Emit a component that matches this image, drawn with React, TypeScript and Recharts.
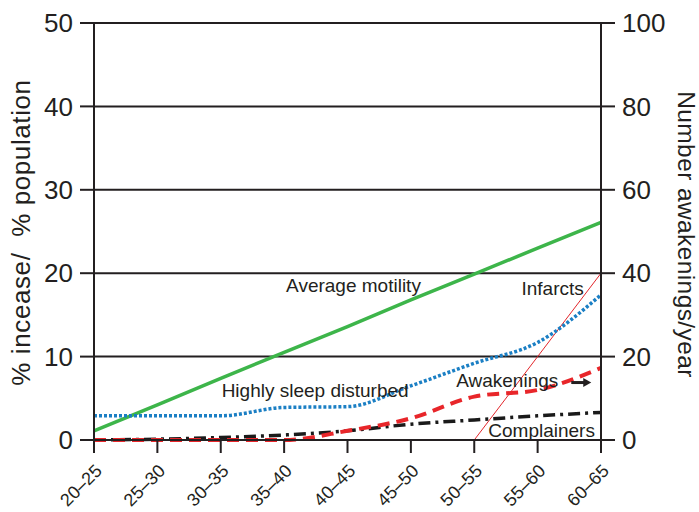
import React from 'react';
import {
  LineChart,
  Line,
  XAxis,
  YAxis,
  CartesianGrid,
  ReferenceDot,
  Label
} from 'recharts';

// age bands
const ageBands = ['20–25', '25–30', '30–35', '35–40', '40–45', '45–50', '50–55', '55–60', '60–65'];

// left axis (% increase / % population)
const averageMotility = [1.1, 4.2, 7.4, 10.5, 13.6, 16.8, 19.9, 23.0, 26.1];
const highlySleepDisturbed = [2.9, 2.9, 2.9, 3.9, 4.0, 6.5, 9.2, 11.7, 17.4];
const complainers = [0, 0.1, 0.3, 0.6, 1.1, 1.9, 2.4, 2.9, 3.3];
const infarcts = [0, 0, 0, 0, 0, 0, 0, 10, 20];

// right axis (number awakenings/year)
const awakenings = [0, 0, 0, 0, 2.2, 5.2, 10.4, 12.0, 17.3];

const leftTicks = [0, 10, 20, 30, 40, 50];
const rightTicks = [0, 20, 40, 60, 80, 100];

// in-plot labels, anchored to a band and a left-axis value
const notes = [
  { text: 'Average motility', band: '40–45', value: 17.75, dx: 6 },
  { text: 'Highly sleep disturbed', band: '35–40', value: 5.15, dx: 31 },
  { text: 'Infarcts', band: '55–60', value: 17.4, dx: 15 },
  { text: 'Awakenings', band: '50–55', value: 6.35, dx: 33, arrow: true },
  { text: 'Complainers', band: '55–60', value: 0.36, dx: 4 }
];

const data = ageBands.map((age, i) => ({
  age,
  motility: averageMotility[i],
  disturbed: highlySleepDisturbed[i],
  complainers: complainers[i],
  infarcts: infarcts[i],
  awakenings: awakenings[i]
}));

const FONT = '"Liberation Sans", Arial, Helvetica, sans-serif';
const INK = '#231f20';

const AgeTick = (props: any) => {
  const { x, y, payload } = props;
  const tx = x + 9;
  const ty = y + 17;
  return (
    <text
      x={tx}
      y={ty}
      transform={`rotate(-45, ${tx}, ${ty})`}
      textAnchor="end"
      fontSize={18}
      fontFamily={FONT}
      fill={INK}
    >
      {payload.value}
    </text>
  );
};

const noteContent = (note: any) => (props: any) => {
  const vb = props.viewBox || {};
  const x = vb.x + note.dx;
  const y = vb.y;
  return (
    <g>
      <text x={x} y={y} textAnchor="middle" fontSize={19} fontFamily={FONT} fill={INK}>
        {note.text}
      </text>
      {note.arrow && (
        <g>
          <line x1={x + 64} y1={y - 4.5} x2={x + 78} y2={y - 4.5} stroke={INK} strokeWidth={3} />
          <polygon points={`${x + 76},${y - 9} ${x + 84},${y - 4.5} ${x + 76},${y}`} fill={INK} />
        </g>
      )}
    </g>
  );
};

const leftLabel = (props: any) => {
  const vb = props.viewBox || {};
  const x = vb.x + 30;
  const y = vb.y + vb.height / 2 + 1;
  return (
    <text
      x={x}
      y={y}
      transform={`rotate(-90, ${x}, ${y})`}
      textAnchor="middle"
      fontSize={26}
      letterSpacing={0.6}
      fontFamily={FONT}
      fill={INK}
    >
      {'% incease/\u00a0 % population'}
    </text>
  );
};

const rightLabel = (props: any) => {
  const vb = props.viewBox || {};
  const x = 678;
  const y = vb.y + vb.height / 2 + 3;
  return (
    <text
      x={x}
      y={y}
      transform={`rotate(90, ${x}, ${y})`}
      textAnchor="middle"
      fontSize={24.5}
      letterSpacing={0.4}
      fontFamily={FONT}
      fill={INK}
    >
      Number awakenings/year
    </text>
  );
};

export default function App() {
  return (
    <div style={{ width: 699, height: 512, background: '#fff' }}>
      <style>{'body{margin:0}'}</style>
      <LineChart
        width={699}
        height={512}
        data={data}
        margin={{ top: 23, right: 0, bottom: 0, left: 0 }}
      >
        <CartesianGrid
          yAxisId="left"
          vertical={false}
          stroke={INK}
          strokeWidth={2}
        />
        <XAxis
          dataKey="age"
          interval={0}
          height={72}
          tickSize={13}
          axisLine={{ stroke: INK, strokeWidth: 2 }}
          tickLine={{ stroke: INK, strokeWidth: 2 }}
          tick={<AgeTick />}
        />
        <YAxis
          yAxisId="left"
          width={94}
          domain={[0, 50]}
          ticks={leftTicks}
          interval={0}
          tickSize={14}
          tickMargin={7}
          axisLine={{ stroke: INK, strokeWidth: 2 }}
          tickLine={{ stroke: INK, strokeWidth: 2 }}
          tick={{ fontSize: 26, fill: INK, fontFamily: FONT }}
        >
          <Label content={leftLabel} />
        </YAxis>
        <YAxis
          yAxisId="right"
          orientation="right"
          width={98}
          domain={[0, 100]}
          ticks={rightTicks}
          interval={0}
          tickSize={14}
          tickMargin={7}
          axisLine={{ stroke: INK, strokeWidth: 2 }}
          tickLine={{ stroke: INK, strokeWidth: 2 }}
          tick={{ fontSize: 26, fill: INK, fontFamily: FONT }}
        >
          <Label content={rightLabel} />
        </YAxis>

        <Line
          yAxisId="left"
          type="linear"
          dataKey="infarcts"
          stroke="#e3262b"
          strokeWidth={1}
          dot={false}
          isAnimationActive={false}
        />
        <Line
          yAxisId="left"
          type="linear"
          dataKey="motility"
          stroke="#3db54a"
          strokeWidth={3.5}
          dot={false}
          isAnimationActive={false}
        />
        <Line
          yAxisId="left"
          type="monotone"
          dataKey="complainers"
          stroke="#1a1a1a"
          strokeWidth={3.5}
          strokeDasharray="12 5 3 5"
          dot={false}
          isAnimationActive={false}
        />
        <Line
          yAxisId="left"
          type="monotone"
          dataKey="disturbed"
          stroke="#1b7fc4"
          strokeWidth={3.5}
          strokeDasharray="3 2"
          dot={false}
          isAnimationActive={false}
        />
        <Line
          yAxisId="right"
          type="monotone"
          dataKey="awakenings"
          stroke="#e8262a"
          strokeWidth={4}
          strokeDasharray="12 7"
          dot={false}
          isAnimationActive={false}
        />

        {notes.map(n => (
          <ReferenceDot
            key={n.text}
            yAxisId="left"
            x={n.band}
            y={n.value}
            r={0}
            fill="none"
            stroke="none"
            label={<Label content={noteContent(n)} />}
          />
        ))}
      </LineChart>
    </div>
  );
}
